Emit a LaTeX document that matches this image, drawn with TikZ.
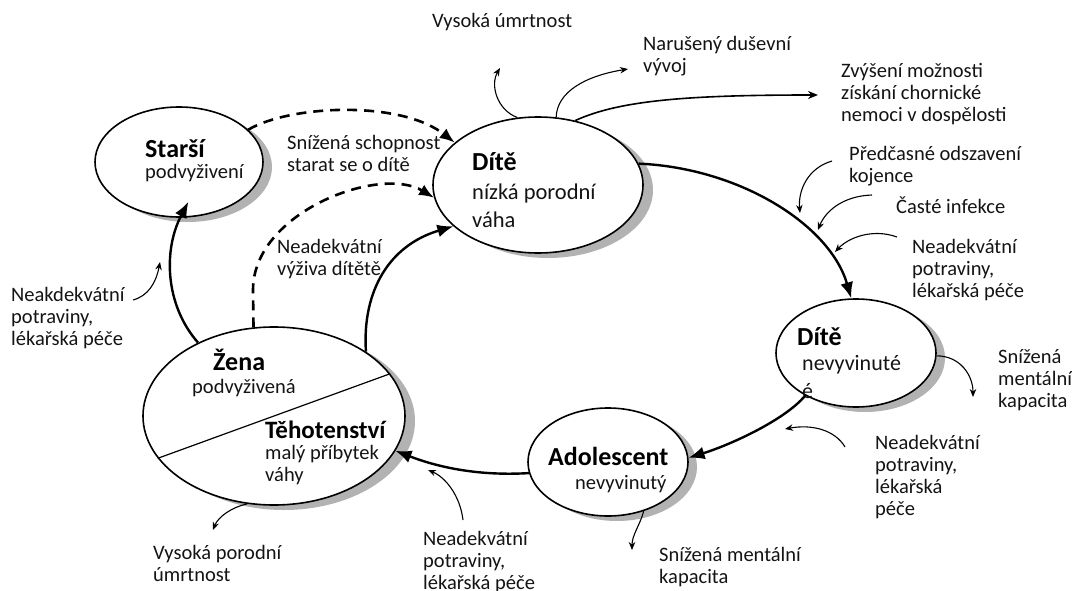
\documentclass[tikz,border=0pt]{standalone}
\usepackage{fontspec}
\setmainfont{Carlito}
\usetikzlibrary{arrows.meta,shapes.geometric}
\definecolor{shadowgrey}{RGB}{178,178,178}
\begin{document}
\begin{tikzpicture}[x=1pt,y=-1pt,
  state/.style={ellipse, draw=black, line width=1.6pt, fill=white, inner sep=0pt},
  shadowfill/.style={fill=shadowgrey, draw=none},
  lbl/.style={font=\fontsize{20.5}{22}\selectfont, align=left, inner sep=0pt, anchor=base west, text=black!92},
  ttl/.style={font=\bfseries\fontsize{26}{28}\selectfont, inner sep=0pt, anchor=base west},
  sub/.style={font=\fontsize{22.5}{28}\selectfont, align=left, inner sep=0pt, anchor=base west, text=black!92},
  cyc/.style={line width=2.4pt, -{Latex[length=16pt,width=13pt]}},
  dsh/.style={line width=2.6pt, dash pattern=on 10pt off 7pt, -{Latex[length=15pt,width=12pt]}},
  thin/.style={line width=1.1pt, -{Stealth[length=8pt,width=6.5pt]}},
]
\fill[white] (0,0) rectangle (1072,591);
\useasboundingbox (0,0) rectangle (1072,591);

% shadows (shifted grey ellipses behind the white ellipses)
\fill[shadowfill] (188,167) ellipse [x radius=84pt, y radius=55pt];
\fill[shadowfill] (548,190) ellipse [x radius=105pt, y radius=68pt];
\fill[shadowfill] (865,358) ellipse [x radius=80pt, y radius=54pt];
\fill[shadowfill] (617,467) ellipse [x radius=80pt, y radius=54pt];
\fill[shadowfill] (284,421) ellipse [x radius=131pt, y radius=89pt];

% ellipses
\node[state, minimum width=168pt, minimum height=110pt] (starsi) at (179,162) {};
\node[state, minimum width=210pt, minimum height=136pt] (dite) at (538,185) {};
\node[state, minimum width=160pt, minimum height=108pt] (dite2) at (856,353) {};
\node[state, minimum width=160pt, minimum height=108pt] (adol) at (608,462) {};
\node[state, minimum width=262pt, minimum height=178pt] (zena) at (274,416) {};
\draw[line width=1.2pt] (zena.200.3) -- (zena.20.3);

% texts inside
\node[ttl] (tstarsi) at (145,158) {Starší};
\node[lbl] (tstarsis) at (145,179) {podvyživení};
\node[ttl] (tdite) at (472,171) {Dítě};
\node[sub] (tdites) at (472,227) {nízká porodní\\váha};
\node[ttl] (tdite2) at (797,345) {Dítě};
\node[sub, font=\fontsize{22}{28}\selectfont] (tdite2s) at (802,398) {nevyvinuté\\é};
\node[ttl] (tadol) at (548,465) {Adolescent};
\node[lbl] (tadols) at (575,489) {nevyvinutý};
\node[ttl] (tzena) at (213,370) {Žena};
\node[lbl] (tzenas) at (192,393) {podvyživená};
\node[ttl, font=\bfseries\fontsize{25}{28}\selectfont] (ttehot) at (265,438) {Těhotenství};
\node[lbl] (ttehots) at (265,481) {malý příbytek\\váhy};

% outer labels (anchored at the baseline of the last line)
\node[lbl] (lvys) at (432,28) {Vysoká úmrtnost};
\node[lbl] (lnar) at (643,73) {Narušený duševní\\vývoj};
\node[lbl] (lzvy) at (841,122) {Zvýšení možnosti\\získání chornické\\nemoci v dospělosti};
\node[lbl] (lpred) at (849,183) {Předčasné odszavení\\kojence};
\node[lbl] (lcast) at (896,214) {Časté infekce};
\node[lbl] (lnr1) at (912,297) {Neadekvátní\\potraviny,\\lékařská péče};
\node[lbl] (lsnir) at (998,407) {Snížená\\mentální\\kapacita};
\node[lbl] (lnr2) at (875,515) {Neadekvátní\\potraviny,\\lékařská\\péče};
\node[lbl] (lsnib) at (659,583) {Snížená mentální\\kapacita};
\node[lbl] (lnb) at (423,589) {Neadekvátní\\potraviny,\\lékařská péče};
\node[lbl] (lvp) at (153,581) {Vysoká porodní\\úmrtnost};
\node[lbl] (lnl) at (11,345) {Neakdekvátní\\potraviny,\\lékařská péče};
\node[lbl] (lss) at (287,172) {Snížená schopnost\\starat se o dítě};
\node[lbl] (lnv) at (277,275) {Neadekvátní\\výživa dítětě};

% main cycle
\draw[cyc] (dite.12) .. controls (740,168) and (830,225) .. (dite2.95);
\draw[cyc] (dite2.220) .. controls (785,420) and (730,445) .. (adol.3);
\draw[cyc] (adol.188) .. controls (480,476) and (440,468) .. (zena.344);
\draw[cyc] (zena.35) .. controls (362,290) and (390,245) .. (dite.206);
\draw[cyc, shorten >=-18pt] (zena.136) .. controls (165,305) and (163,250) .. (starsi.271);

% dashed
\draw[dsh] (starsi.25) .. controls (290,105) and (400,100) .. (dite.153);
\draw[dsh] (zena.103) -- (253,290) .. controls (253,212) and (380,165) .. (dite.187);

% thin arrows
\coordinate (vysT) at (500,68);
\coordinate (narT) at (628,69);
\coordinate (zvyT) at (818,95);
\coordinate (predS) at (832,161);
\coordinate (predT) at (800,213);
\coordinate (castS) at (872,195);
\coordinate (castT) at (818,230);
\coordinate (nr1S) at (897,237);
\coordinate (nr1T) at (835,252);
\coordinate (sniRT) at (973,397);
\coordinate (nr2S) at (845,447);
\coordinate (nr2T) at (785,429);
\coordinate (sniBT) at (632,550);
\coordinate (nbS) at (463,520);
\coordinate (nbT) at (428,470);
\coordinate (vpT) at (213,530);
\coordinate (nlS) at (133,300);
\coordinate (nlT) at (160,262);

\draw[thin] (dite.107) .. controls (497,110) and (490,85) .. (vysT);
\draw[thin] (dite.75) .. controls (557,92) and (585,76) .. (narT);
\draw[thin, line width=1.6pt, -{Stealth[length=10pt,width=8pt]}] (dite.60) .. controls (620,100) and (690,95) .. (zvyT);
\draw[thin] (predS) .. controls (808,168) and (798,190) .. (predT);
\draw[thin] (castS) .. controls (842,196) and (825,212) .. (castT);
\draw[thin] (nr1S) .. controls (872,228) and (848,238) .. (nr1T);
\draw[thin] (dite2.358) .. controls (960,356) and (973,375) .. (sniRT);
\draw[thin] (nr2S) .. controls (835,430) and (812,424) .. (nr2T);
\draw[thin] (adol.306) .. controls (640,525) and (632,535) .. (sniBT);
\draw[thin] (nbS) .. controls (460,495) and (445,477) .. (nbT);
\draw[thin] (zena.253) .. controls (232,507) and (218,517) .. (vpT);
\draw[thin] (nlS) .. controls (148,296) and (156,283) .. (nlT);
\end{tikzpicture}
\end{document}
